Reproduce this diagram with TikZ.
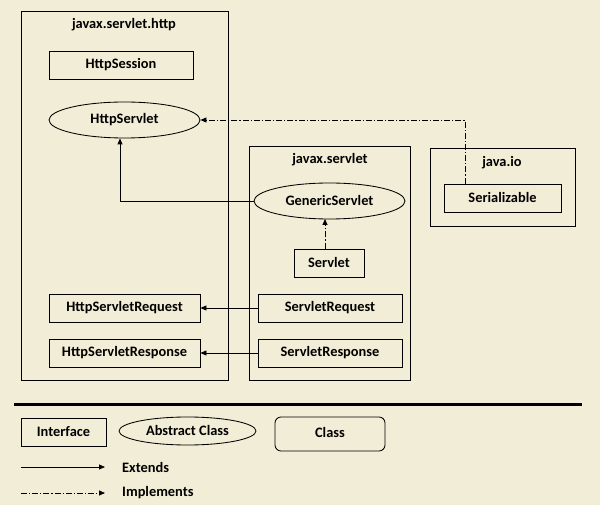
\documentclass[tikz,border=0pt]{standalone}
\usepackage{fontspec}
\setmainfont{Carlito}
\usetikzlibrary{shapes.geometric,arrows.meta}
\definecolor{parch}{RGB}{242,237,214}
\begin{document}
\begin{tikzpicture}[x=1pt,y=-1pt,
  every node/.style={font=\bfseries\fontsize{14.4}{17}\selectfont, inner sep=0pt},
  pkg/.style={draw, line width=0.85pt},
  iface/.style={draw, line width=0.85pt, rectangle, minimum height=28pt},
  abst/.style={draw, line width=0.85pt, ellipse},
  ext/.style={line width=0.85pt, -{Triangle[length=6pt,width=5pt]}},
  impl/.style={line width=0.85pt, dash pattern=on 6pt off 2pt on 1.2pt off 2pt, -{Triangle[length=6pt,width=5pt]}}]
\fill[parch] (0,0) rectangle (600,505);
\useasboundingbox (0,0) rectangle (600,505);
% packages
\node[pkg, minimum width=207pt, minimum height=369pt] (pkghttp) at (124.5,195.5) {};
\node (lhttp) at (124,25) {javax.servlet.http};
\node[pkg, minimum width=161pt, minimum height=234pt] (pkgserv) at (329.5,263) {};
\node (lserv) at (330,160) {javax.servlet};
\node[pkg, minimum width=145pt, minimum height=78pt] (pkgio) at (502.5,187) {};
\node (lio) at (502,163) {java.io};
% http
\node[iface, minimum width=144pt] (session) at (121,65) {HttpSession};
\node[abst, minimum width=151pt, minimum height=36pt] (httpservlet) at (124.5,120) {HttpServlet};
\node[iface, minimum width=151pt] (hreq) at (124.5,308) {HttpServletRequest};
\node[iface, minimum width=151pt] (hresp) at (124.5,353) {HttpServletResponse};
% servlet
\node[abst, minimum width=151pt, minimum height=36pt] (generic) at (329.5,201) {GenericServlet};
\node[iface, minimum width=70pt] (servlet) at (329,263) {Servlet};
\node[iface, minimum width=144pt] (sreq) at (330,308) {ServletRequest};
\node[iface, minimum width=144pt] (sresp) at (330,353) {ServletResponse};
% io
\node[iface, minimum width=117pt] (serial) at (502.5,198) {Serializable};
% connectors
\coordinate (c1) at (465,120);
\draw[impl] (serial.north -| c1) -- (c1) -- (httpservlet.east);
\coordinate (c2) at (120,201);
\draw[ext] (generic.west) -- (c2) -- (c2 |- httpservlet.south);
\draw[impl] (servlet.north -| 325,0) -- (325,219);
\draw[ext] (sreq.west) -- (hreq.east);
\draw[ext] (sresp.west) -- (hresp.east);
% legend
\coordinate (la) at (14,404);
\coordinate (lb) at (582,404);
\draw[line width=3pt] (la) -- (lb);
\node[iface, minimum width=85pt] (linterface) at (63.5,432) {Interface};
\node[abst, minimum width=137pt, minimum height=28pt, text depth=0pt] (labstract) at (187.5,431) {\raisebox{2pt}{Abstract Class}};
\node[draw, line width=0.85pt, rounded corners=6pt, minimum width=110pt, minimum height=34pt] (lclass) at (330,434) {\raisebox{3pt}{Class}};
\coordinate (e1) at (21,467);
\coordinate (e2) at (105,467);
\draw[ext] (e1) -- (e2);
\node[anchor=west] (lext) at (122,467) {Extends};
\coordinate (i1) at (21,493);
\coordinate (i2) at (105,493);
\draw[impl] (i1) -- (i2);
\node[anchor=west] (limpl) at (122,493) {Implements};
\end{tikzpicture}
\end{document}
